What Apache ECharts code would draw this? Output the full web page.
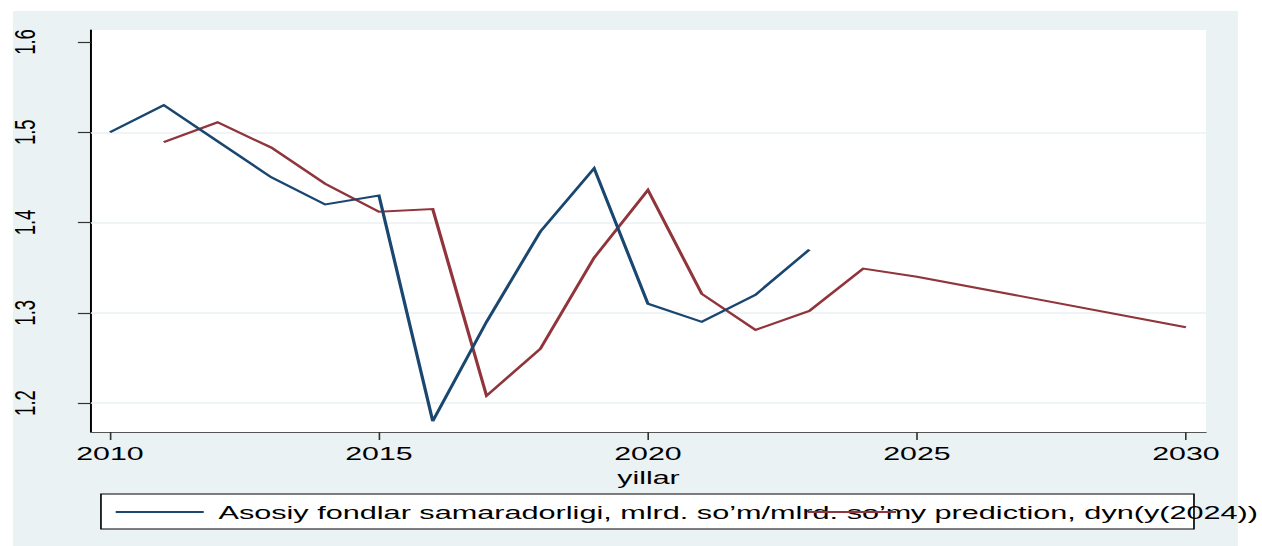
<!DOCTYPE html>
<html>
<head>
<meta charset="utf-8" />
<title>Asosiy fondlar samaradorligi</title>
<script src="https://cdn.jsdelivr.net/npm/echarts@6/dist/echarts.min.js"></script>
<style>
  html, body { margin: 0; padding: 0; background: #fff; overflow: hidden; }
  /* the original export is stretched sideways, so draw narrow and stretch */
  #main { width: 770px; height: 546px; transform: scaleX(1.638961); transform-origin: 0 0; }
</style>
</head>
<body>
<div id="main"></div>
<script type="text/javascript">
// data
var actualYears = [2010, 2011, 2012, 2013, 2014, 2015, 2016, 2017, 2018, 2019, 2020, 2021, 2022, 2023];
var actualValues = [1.50, 1.53, 1.49, 1.45, 1.42, 1.43, 1.18, 1.29, 1.39, 1.46, 1.31, 1.29, 1.32, 1.37];
var predYears = [2011, 2012, 2013, 2014, 2015, 2016, 2017, 2018, 2019, 2020, 2021, 2022, 2023, 2024, 2025, 2030];
var predValues = [1.489, 1.511, 1.483, 1.443, 1.412, 1.415, 1.208, 1.260, 1.361, 1.436, 1.321, 1.281, 1.302, 1.349, 1.340, 1.284];
var xTicks = [2010, 2015, 2020, 2025, 2030];
var yTicks = [1.2, 1.3, 1.4, 1.5, 1.6];
var yGrid = [1.2, 1.3, 1.4, 1.5];
var seriesNames = ['Asosiy fondlar samaradorligi, mlrd. so’m/mlrd. so’m', 'y prediction, dyn(y(2024))'];

function pairs(xs, ys) {
  return xs.map(function (x, i) { return [x, ys[i]]; });
}

var chart = echarts.init(document.getElementById('main'), null, { renderer: 'svg' });
var font = '"Liberation Sans", Arial, sans-serif';

var option = {
  animation: false,
  graphic: [
    { type: 'rect', z: -10, shape: { x: 7.9, y: 11, width: 747.4, height: 535 }, style: { fill: '#eaf2f3' } },
    { type: 'rect', z: 3, shape: { x: 61.6, y: 494, width: 666.9, height: 35 }, style: { fill: '#fff', stroke: '#000', lineWidth: 1 } }
  ],
  grid: {
    left: 55.5, right: 34.2, top: 30, bottom: 114,
    show: true, backgroundColor: '#fff', borderWidth: 0
  },
  legend: {
    left: 69.6, top: 502, padding: 0,
    itemWidth: 53.7, itemHeight: 14, itemGap: -64,
    // hide the symbol in the middle of each legend line
    itemStyle: { color: 'transparent', borderColor: 'transparent', borderWidth: 0 },
    textStyle: { fontFamily: font, fontSize: 18.7, color: '#000', padding: [0, 0, 0, 4], lineHeight: 20 },
    data: seriesNames
  },
  xAxis: {
    type: 'value', min: 2009.647, max: 2030.372,
    name: 'yillar', nameLocation: 'middle', nameGap: 27,
    nameTextStyle: { fontFamily: font, fontSize: 18.5, color: '#000' },
    axisLine: { show: true, lineStyle: { color: '#555', width: 1 } },
    axisTick: { show: true, length: 8, customValues: xTicks, lineStyle: { color: '#333', width: 1 } },
    axisLabel: {
      margin: 12, customValues: xTicks, fontFamily: font, fontSize: 18.5, color: '#000',
      formatter: function (v) { return String(v); }
    },
    splitLine: { show: false }
  },
  yAxis: {
    type: 'value', min: 1.1679, max: 1.6133,
    axisLine: { show: true, lineStyle: { color: '#000', width: 1.2 } },
    axisTick: { show: true, length: 8, customValues: yTicks, lineStyle: { color: '#333', width: 1.2 } },
    axisLabel: { rotate: 90, margin: 31, customValues: yTicks, fontFamily: font, fontSize: 18.5, color: '#000' },
    splitLine: { show: false }
  },
  series: [
    {
      name: seriesNames[0], type: 'line', symbol: 'none',
      lineStyle: { color: '#1a476f', width: 2, join: 'miter' },
      itemStyle: { color: '#1a476f' },
      data: pairs(actualYears, actualValues),
      z: 5,
      markLine: {
        silent: true, symbol: 'none', animation: false, z: 1,
        label: { show: false },
        lineStyle: { color: '#eaf2f3', width: 1.5, type: 'solid' },
        data: yGrid.map(function (v) { return { yAxis: v }; })
      }
    },
    {
      name: seriesNames[1], type: 'line', symbol: 'none',
      lineStyle: { color: '#90353b', width: 2, join: 'miter' },
      itemStyle: { color: '#90353b' },
      data: pairs(predYears, predValues),
      z: 4
    }
  ]
};

chart.setOption(option);
</script>
</body>
</html>
